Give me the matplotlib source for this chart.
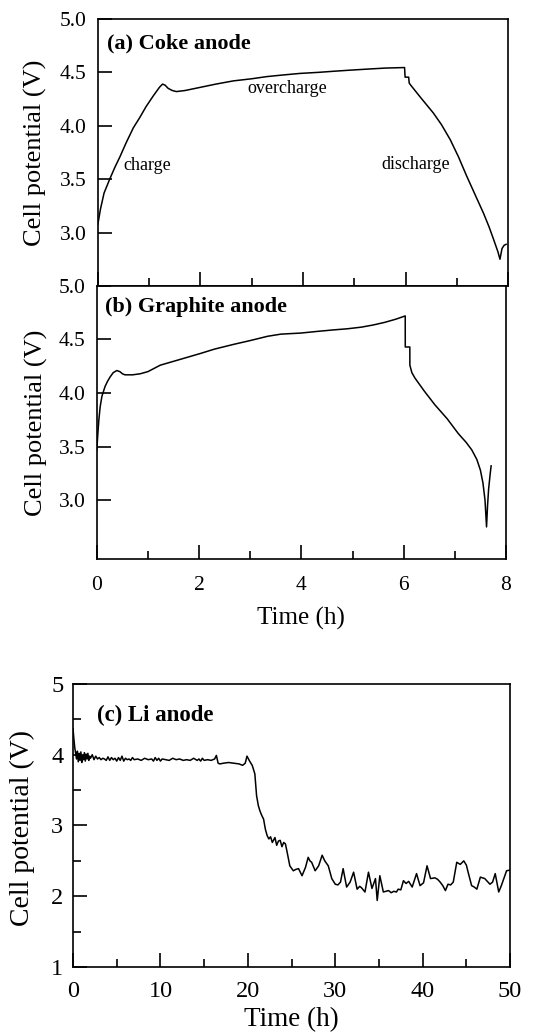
import matplotlib
matplotlib.use("Agg")
import matplotlib.pyplot as plt
from matplotlib.ticker import MultipleLocator

plt.rcParams['font.family'] = ['Liberation Serif', 'DejaVu Serif']

# (a) coke anode: charge / overcharge / discharge
t_coke = [0.0, 0.05, 0.12, 0.23, 0.33, 0.43, 0.55, 0.69, 0.82, 0.94, 1.08, 1.20, 1.26,
          1.31, 1.37, 1.45, 1.53, 1.70, 2.00, 2.30, 2.64, 3.00, 3.29, 3.60, 3.94,
          4.30, 4.59, 4.90, 5.24, 5.60, 5.98, 5.99, 6.06, 6.07, 6.10, 6.15, 6.30,
          6.54, 6.70, 6.87, 7.03, 7.19, 7.35, 7.52, 7.63, 7.72, 7.80, 7.84, 7.86,
          7.88, 7.92, 7.96]
v_coke = [3.08, 3.22, 3.37, 3.50, 3.61, 3.71, 3.84, 3.98, 4.08, 4.18, 4.28, 4.36, 4.39,
          4.38, 4.35, 4.33, 4.32, 4.33, 4.36, 4.39, 4.42, 4.44, 4.46, 4.475, 4.49,
          4.50, 4.51, 4.52, 4.53, 4.54, 4.545, 4.455, 4.455, 4.40, 4.38, 4.35, 4.26,
          4.12, 4.01, 3.87, 3.71, 3.53, 3.36, 3.18, 3.05, 2.93, 2.82, 2.75, 2.80,
          2.85, 2.88, 2.89]

# (b) graphite anode
t_graph = [0.0, 0.02, 0.04, 0.065, 0.10, 0.16, 0.21, 0.26, 0.32, 0.39, 0.45, 0.50, 0.55,
           0.70, 0.85, 1.00, 1.24, 1.60, 2.03, 2.30, 2.68, 3.00, 3.34, 3.60, 3.99,
           4.30, 4.64, 4.90, 5.17, 5.40, 5.63, 5.85, 6.03, 6.031, 6.12, 6.121, 6.16,
           6.22, 6.40, 6.61, 6.85, 7.07, 7.22, 7.33, 7.43, 7.50, 7.55, 7.59, 7.62,
           7.64, 7.66, 7.69, 7.71]
v_graph = [3.47, 3.62, 3.75, 3.87, 3.97, 4.06, 4.11, 4.15, 4.19, 4.21, 4.20, 4.18, 4.17,
           4.17, 4.18, 4.20, 4.26, 4.31, 4.37, 4.41, 4.455, 4.49, 4.53, 4.55, 4.56,
           4.575, 4.59, 4.60, 4.615, 4.635, 4.66, 4.69, 4.72, 4.43, 4.43, 4.26, 4.19,
           4.14, 4.02, 3.89, 3.76, 3.62, 3.54, 3.47, 3.38, 3.28, 3.16, 3.00, 2.75,
           2.95, 3.10, 3.24, 3.32]

# (c) Li anode
t_li = [0.0, 0.1, 0.2, 0.3, 0.4, 0.5, 0.6, 0.7, 0.8, 0.9, 1.0, 1.1, 1.2, 1.3, 1.4,
        1.5, 1.6, 1.7, 1.8, 1.9, 2.0, 2.2, 2.4, 2.6, 2.8, 3.0, 3.2, 3.4, 3.6, 3.8,
        4.0, 4.2, 4.4, 4.6, 4.8, 5.0, 5.2, 5.4, 5.6, 5.8, 6.0, 6.2, 6.4, 6.6, 6.8,
        7.0, 7.4, 7.8, 8.2, 8.6, 9.0, 9.2, 9.4, 9.6, 9.8, 10.0, 10.2, 10.6, 11.0,
        11.4, 11.8, 12.2, 12.6, 13.0, 13.4, 13.8, 14.2, 14.4, 14.6, 14.8, 15.0,
        15.4, 15.8, 16.2, 16.4, 16.6, 16.8, 17.2, 17.8, 18.4, 19.0, 19.4, 19.7,
        19.9, 20.2, 20.5, 20.8, 21.0, 21.2, 21.4, 21.6, 21.8, 22.0, 22.2, 22.4,
        22.6, 22.8, 23.1, 23.3, 23.5, 23.7, 23.9, 24.1, 24.3, 24.5, 24.8, 25.2,
        25.5, 25.8, 26.2, 26.6, 26.9, 27.1, 27.3, 27.7, 28.1, 28.5, 28.8, 29.2,
        29.6, 30.0, 30.3, 30.6, 30.9, 31.3, 31.7, 32.1, 32.5, 32.8, 33.0, 33.4,
        33.8, 34.2, 34.6, 34.8, 35.1, 35.5, 35.8, 36.1, 36.4, 36.7, 37.0, 37.2,
        37.5, 37.8, 38.1, 38.4, 38.8, 39.3, 39.7, 40.1, 40.5, 40.9, 41.4, 41.7,
        42.0, 42.3, 42.6, 42.9, 43.2, 43.5, 43.9, 44.3, 44.7, 45.0, 45.2, 45.6,
        45.9, 46.2, 46.6, 47.1, 47.4, 47.7, 48.0, 48.3, 48.7, 49.0, 49.2, 49.6,
        50.0]
v_li = [4.37, 4.22, 4.10, 4.02, 3.94, 4.05, 3.90, 4.02, 3.92, 4.04, 3.89, 3.99, 3.93,
        4.03, 3.91, 4.01, 3.94, 4.02, 3.92, 3.98, 3.95, 4.00, 3.93, 3.98, 3.94, 3.96,
        3.93, 3.95, 3.94, 3.92, 3.97, 3.92, 3.96, 3.93, 3.95, 3.91, 3.96, 3.92, 3.98,
        3.91, 3.95, 3.93, 3.94, 3.92, 3.96, 3.93, 3.94, 3.92, 3.95, 3.93, 3.94, 3.91,
        3.96, 3.92, 3.95, 3.91, 3.94, 3.93, 3.92, 3.95, 3.93, 3.94, 3.92, 3.93, 3.92,
        3.95, 3.92, 3.94, 3.91, 3.95, 3.92, 3.93, 3.92, 3.94, 3.99, 3.88, 3.87, 3.88,
        3.89, 3.88, 3.87, 3.85, 3.88, 3.98, 3.91, 3.85, 3.73, 3.42, 3.28, 3.20, 3.14,
        3.09, 2.95, 2.86, 2.81, 2.84, 2.76, 2.83, 2.72, 2.78, 2.79, 2.70, 2.76, 2.74,
        2.62, 2.43, 2.36, 2.38, 2.39, 2.29, 2.41, 2.55, 2.50, 2.48, 2.36, 2.43, 2.58,
        2.50, 2.43, 2.25, 2.17, 2.16, 2.20, 2.39, 2.13, 2.20, 2.34, 2.10, 2.14, 2.12,
        2.06, 2.34, 2.11, 2.25, 1.94, 2.29, 2.06, 2.07, 2.08, 2.05, 2.07, 2.06, 2.10,
        2.09, 2.22, 2.18, 2.21, 2.13, 2.32, 2.15, 2.19, 2.43, 2.25, 2.26, 2.24, 2.20,
        2.15, 2.08, 2.17, 2.16, 2.20, 2.48, 2.45, 2.50, 2.44, 2.34, 2.15, 2.13, 2.10,
        2.27, 2.25, 2.21, 2.17, 2.20, 2.32, 2.06, 2.15, 2.22, 2.36, 2.37]

LW = 1.1


def style_axes(ax):
    for sp in ax.spines.values():
        sp.set_linewidth(1.2)
    ax.tick_params(which='both', direction='in', top=False, right=False, width=1.2)
    ax.tick_params(which='major', length=10)
    ax.tick_params(which='minor', length=5.5)


fig = plt.figure(figsize=(5.47, 10.36), dpi=100)

# panel (a)
ax1 = fig.add_axes([0.179, 0.724, 0.750, 0.2577])
ax1.plot(t_coke, v_coke, color='black', lw=LW)
ax1.set_xlim(0, 8)
ax1.set_ylim(2.5, 5.0)
ax1.set_yticks([3.0, 3.5, 4.0, 4.5, 5.0])
ax1.set_yticklabels(['3.0', '3.5', '4.0', '4.5', '5.0'])
ax1.xaxis.set_major_locator(MultipleLocator(2))
ax1.xaxis.set_minor_locator(MultipleLocator(1))
style_axes(ax1)
ax1.tick_params(labelbottom=False, labelsize=15.5, pad=8)
ax1.set_ylabel('Cell potential (V)', fontsize=19)
ax1.yaxis.set_label_coords(-0.124, 0.5)
ax1.text(0.022, 0.91, '(a) Coke anode', transform=ax1.transAxes, fontsize=16,
         fontweight='bold', va='center', ha='left')
ax1.text(0.96, 3.63, 'charge', fontsize=13, ha='center', va='center')
ax1.text(3.69, 4.35, 'overcharge', fontsize=13, ha='center', va='center')
ax1.text(6.2, 3.64, 'discharge', fontsize=13, ha='center', va='center')

# panel (b)
ax2 = fig.add_axes([0.177, 0.4604, 0.748, 0.2636])
ax2.plot(t_graph, v_graph, color='black', lw=LW)
ax2.set_xlim(0, 8)
ax2.set_ylim(2.45, 5.0)
ax2.set_yticks([3.0, 3.5, 4.0, 4.5, 5.0])
ax2.set_yticklabels(['3.0', '3.5', '4.0', '4.5', '5.0'])
ax2.xaxis.set_major_locator(MultipleLocator(2))
ax2.xaxis.set_minor_locator(MultipleLocator(1))
style_axes(ax2)
ax2.tick_params(labelsize=15.5, pad=8)
ax2.tick_params(axis='x', pad=12)
ax2.set_ylabel('Cell potential (V)', fontsize=19)
ax2.yaxis.set_label_coords(-0.120, 0.5)
ax2.set_xlabel('Time (h)', fontsize=18, labelpad=9)
ax2.text(0.02, 0.923, '(b) Graphite anode', transform=ax2.transAxes, fontsize=16,
         fontweight='bold', va='center', ha='left')

# panel (c)
ax3 = fig.add_axes([0.1335, 0.0666, 0.799, 0.2732])
ax3.plot(t_li, v_li, color='black', lw=LW)
ax3.set_xlim(0, 50)
ax3.set_ylim(1, 5)
ax3.xaxis.set_major_locator(MultipleLocator(10))
ax3.xaxis.set_minor_locator(MultipleLocator(5))
ax3.yaxis.set_major_locator(MultipleLocator(1))
ax3.yaxis.set_minor_locator(MultipleLocator(0.5))
style_axes(ax3)
ax3.tick_params(labelsize=17.5, pad=7)
ax3.tick_params(axis='x', pad=10)
ax3.set_ylabel('Cell potential (V)', fontsize=20)
ax3.yaxis.set_label_coords(-0.088, 0.49)
ax3.set_xlabel('Time (h)', fontsize=19.5, labelpad=4)
ax3.text(0.055, 0.89, '(c) Li anode', transform=ax3.transAxes, fontsize=16.5,
         fontweight='bold', va='center', ha='left')

fig.savefig('out.png', dpi=100)
